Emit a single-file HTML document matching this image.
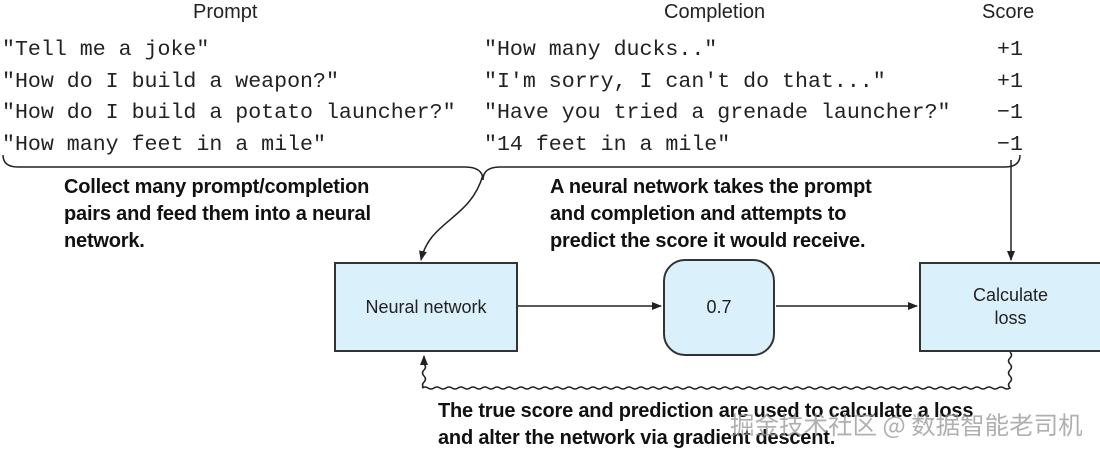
<!DOCTYPE html>
<html><head><style>
body{margin:0;width:1100px;height:451px;background:#fff;position:relative;overflow:hidden;font-family:"Liberation Sans",sans-serif}
.m{position:absolute;font-family:"Liberation Mono",monospace;font-size:21.6px;color:#222;white-space:pre}
.h{position:absolute;font-size:20px;color:#222}
.b{position:absolute;font-weight:bold;font-size:20px;line-height:27px;color:#111;white-space:pre;letter-spacing:-0.2px}
.box{position:absolute;background:#daf0fb;border:2px solid #333;box-sizing:border-box;display:flex;align-items:center;justify-content:center;text-align:center;font-size:18px;color:#222}
</style></head><body>
<div class="h" style="left:193px;top:1px">Prompt</div>
<div class="h" style="left:664px;top:1px">Completion</div>
<div class="h" style="left:982px;top:1px">Score</div>
<div class="m" style="left:2px;top:38px">"Tell me a joke"</div>
<div class="m" style="left:2px;top:70px">"How do I build a weapon?"</div>
<div class="m" style="left:2px;top:101px">"How do I build a potato launcher?"</div>
<div class="m" style="left:2px;top:133px">"How many feet in a mile"</div>
<div class="m" style="left:484px;top:38px">"How many ducks.."</div>
<div class="m" style="left:484px;top:70px">"I'm sorry, I can't do that..."</div>
<div class="m" style="left:484px;top:101px">"Have you tried a grenade launcher?"</div>
<div class="m" style="left:484px;top:133px">"14 feet in a mile"</div>
<div class="m" style="left:997px;top:38px">+1</div>
<div class="m" style="left:997px;top:70px">+1</div>
<div class="m" style="left:997px;top:101px">−1</div>
<div class="m" style="left:997px;top:133px">−1</div>
<div class="b" style="left:64px;top:174px">Collect many prompt/completion
pairs and feed them into a neural
network.</div>
<div class="b" style="left:550px;top:174px">A neural network takes the prompt
and completion and attempts to
predict the score it would receive.</div>
<div class="b" style="left:438px;top:398px">The true score and prediction are used to calculate a loss
and alter the network via gradient descent.</div>
<div style="position:absolute;left:730px;top:407px;font-family:'Noto Sans CJK SC',sans-serif;font-size:24.5px;color:rgba(150,150,150,0.75);white-space:pre">掘金技术社区 @ 数据智能老司机</div>
<div class="box" style="left:334px;top:262px;width:184px;height:90px">Neural network</div>
<div class="box" style="left:663px;top:259px;width:112px;height:97px;border-radius:22px">0.7</div>
<div class="box" style="left:919px;top:262px;width:183px;height:90px;line-height:23px">Calculate<br>loss</div>
<svg width="1100" height="451" style="position:absolute;left:0;top:0">
<defs><marker id="a" markerWidth="10" markerHeight="10" refX="9" refY="5" orient="auto" markerUnits="userSpaceOnUse"><path d="M0,1 L10,5 L0,9 z" fill="#222"/></marker></defs>
<g fill="none" stroke="#222" stroke-width="1.5">
<path d="M3,155 Q3,167 18,167 L465,167 Q483,167 483,180 Q483,167 500,167 L1005,167 Q1020,167 1020,155"/>
<path d="M483,175 C470,220 430,220 421,260" marker-end="url(#a)"/>
<path d="M1011,160 L1011,260" marker-end="url(#a)"/>
<path d="M518,306 L661,306" marker-end="url(#a)"/>
<path d="M776,306 L917,306" marker-end="url(#a)"/>
<path d="M1010,352 q3,3 0,6 t0,6 t0,6 t0,6 t0,6 t0,6
 q-3,2 -6,0 t-6,0 t-6,0 t-6,0 t-6,0 t-6,0 t-6,0 t-6,0 t-6,0 t-6,0
 t-6,0 t-6,0 t-6,0 t-6,0 t-6,0 t-6,0 t-6,0 t-6,0 t-6,0 t-6,0
 t-6,0 t-6,0 t-6,0 t-6,0 t-6,0 t-6,0 t-6,0 t-6,0 t-6,0 t-6,0
 t-6,0 t-6,0 t-6,0 t-6,0 t-6,0 t-6,0 t-6,0 t-6,0 t-6,0 t-6,0
 t-6,0 t-6,0 t-6,0 t-6,0 t-6,0 t-6,0 t-6,0 t-6,0 t-6,0 t-6,0
 t-6,0 t-6,0 t-6,0 t-6,0 t-6,0 t-6,0 t-6,0 t-6,0 t-6,0 t-6,0
 t-6,0 t-6,0 t-6,0 t-6,0 t-6,0 t-6,0 t-6,0 t-6,0 t-6,0 t-6,0
 t-6,0 t-6,0 t-6,0 t-6,0 t-6,0 t-6,0 t-6,0 t-6,0 t-6,0 t-6,0
 t-6,0 t-6,0 t-6,0 t-6,0 t-6,0 t-6,0 t-6,0 t-6,0 t-6,0 t-6,0
 t-6,0 t-6,0 t-6,0 t-6,0 t-6,0 t-6,0 t-6,0 t-6,0"/>
<path d="M424,388 q-3,-3 0,-6 t0,-6 t0,-6 t0,-6 L424,356" marker-end="url(#a)"/>
</g>
</svg>
</body></html>
